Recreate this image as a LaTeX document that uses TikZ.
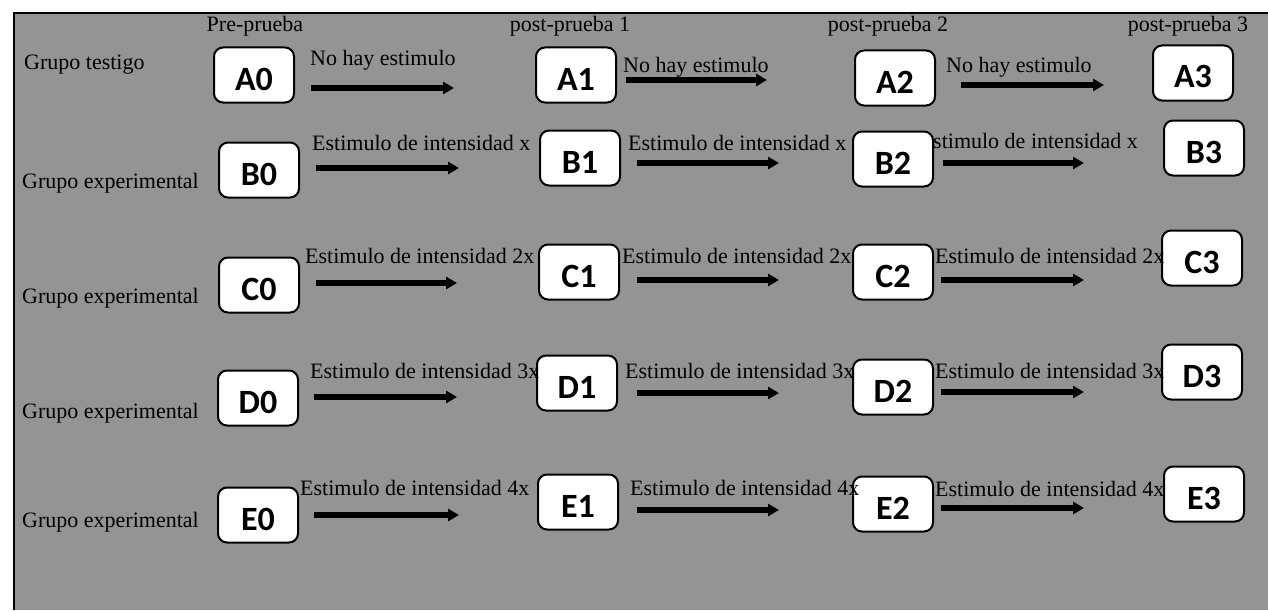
\documentclass[tikz,border=0pt]{standalone}
\usepackage{fontspec}
\setmainfont{Liberation Serif}
\newfontfamily\cajafont{Carlito}
\usetikzlibrary{arrows.meta}
\definecolor{fondo}{gray}{0.58}
\tikzset{
caja/.style = {draw, line width=2pt, rounded corners=9pt, fill=white,
               minimum width=80pt, minimum height=55pt, inner sep=0pt,
               text height=30pt, text depth=0pt,
               font=\cajafont\bfseries\fontsize{34}{38}\selectfont},
texto/.style = {inner sep=0pt, font=\fontsize{22}{26}\selectfont},
flecha/.style 2 args = {line width=6pt, -{Triangle[length=11pt,width=12pt]},
                        shorten <=#1pt, shorten >=#2pt}
}
\begin{document}
\begin{tikzpicture}[x=1pt, y=-1pt]
  \useasboundingbox (0,0) rectangle (1268,610);
  \fill[fondo] (14,13) rectangle (1268,610);
  \draw[line width=2pt] (14,610) -- (14,13) -- (1268,13);

  % encabezados
  \node[texto, anchor=base] (pre)   at (255,32)  {Pre-prueba};
  \node[texto, anchor=base] (post1) at (570,32)  {post-prueba 1};
  \node[texto, anchor=base] (post2) at (888,32)  {post-prueba 2};
  \node[texto, anchor=base] (post3) at (1188,32) {post-prueba 3};

  % grupos
  \node[texto, anchor=base west] (gA) at (24,70)  {Grupo testigo};
  \node[texto, anchor=base west] (gB) at (22,188) {Grupo experimental};
  \node[texto, anchor=base west] (gC) at (22,303) {Grupo experimental};
  \node[texto, anchor=base west] (gD) at (22,418) {Grupo experimental};
  \node[texto, anchor=base west] (gE) at (22,527) {Grupo experimental};

  % cajas
  \node[caja] (A0) at (254,75)  {A0};
  \node[caja] (A1) at (576,75)  {A1};
  \node[caja] (A2) at (895,78)  {A2};
  \node[caja] (A3) at (1193,73) {A3};
  \node[caja] (B0) at (259,170) {B0};
  \node[caja] (B1) at (580,158) {B1};
  \node[caja] (B2) at (893,159) {B2};
  \node[caja] (B3) at (1204,148) {B3};
  \node[caja] (C0) at (259,285) {C0};
  \node[caja] (C1) at (579,272) {C1};
  \node[caja] (C2) at (893,272) {C2};
  \node[caja] (C3) at (1202,258) {C3};
  \node[caja] (D0) at (258,398) {D0};
  \node[caja] (D1) at (577,383) {D1};
  \node[caja] (D2) at (893,387) {D2};
  \node[caja] (D3) at (1202,372) {D3};
  \node[caja] (E0) at (258,515) {E0};
  \node[caja] (E1) at (578,502) {E1};
  \node[caja] (E2) at (893,504) {E2};
  \node[caja] (E3) at (1204,494) {E3};

  % fila A
  \draw[flecha={16}{81}] (A0.east |- 0,88) -- (A1.west |- 0,88);
  \draw[flecha={9}{87}]  (A1.east |- 0,80) -- (A2.west |- 0,80);
  \draw[flecha={25}{48}] (A2.east |- 0,85) -- (A3.west |- 0,85);
  \node[texto, anchor=base west] (tA1) at (310,66) {No hay estimulo};
  \node[texto, anchor=base west] (tA2) at (623,72) {No hay estimulo};
  \node[texto, anchor=base west] (tA3) at (946,73) {No hay estimulo};

  % fila B
  \draw[flecha={16}{80}] (B0.east |- 0,168) -- (B1.west |- 0,168);
  \draw[flecha={16}{73}] (B1.east |- 0,163) -- (B2.west |- 0,163);
  \draw[flecha={9}{79}]  (B2.east |- 0,163) -- (B3.west |- 0,163);
  \node[texto, anchor=base west] (tB1) at (312,150) {Estimulo de intensidad x};
  \node[texto, anchor=base west] (tB2) at (628,150) {Estimulo de intensidad x};
  \node[texto, anchor=base west] (tB3) at (933,148) {stimulo de intensidad x};

  % fila C
  \draw[flecha={16}{81}] (C0.east |- 0,283) -- (C1.west |- 0,283);
  \draw[flecha={17}{73}] (C1.east |- 0,280) -- (C2.west |- 0,280);
  \draw[flecha={7}{77}]  (C2.east |- 0,280) -- (C3.west |- 0,280);
  \node[texto, anchor=base west] (tC1) at (305,263) {Estimulo de intensidad 2x};
  \node[texto, anchor=base west] (tC2) at (622,263) {Estimulo de intensidad 2x};
  \node[texto, anchor=base west] (tC3) at (935,263) {Estimulo de intensidad 2x};

  % fila D
  \draw[flecha={15}{79}] (D0.east |- 0,397) -- (D1.west |- 0,397);
  \draw[flecha={19}{73}] (D1.east |- 0,393) -- (D2.west |- 0,393);
  \draw[flecha={7}{77}]  (D2.east |- 0,392) -- (D3.west |- 0,392);
  \node[texto, anchor=base west] (tD1) at (310,378) {Estimulo de intensidad 3x};
  \node[texto, anchor=base west] (tD2) at (625,378) {Estimulo de intensidad 3x};
  \node[texto, anchor=base west] (tD3) at (935,378) {Estimulo de intensidad 3x};

  % fila E
  \draw[flecha={15}{78}] (E0.east |- 0,515) -- (E1.west |- 0,515);
  \draw[flecha={18}{73}] (E1.east |- 0,510) -- (E2.west |- 0,510);
  \draw[flecha={7}{79}]  (E2.east |- 0,508) -- (E3.west |- 0,508);
  \node[texto, anchor=base west] (tE1) at (300,495) {Estimulo de intensidad 4x};
  \node[texto, anchor=base west] (tE2) at (630,495) {Estimulo de intensidad 4x};
  \node[texto, anchor=base west] (tE3) at (935,496) {Estimulo de intensidad 4x};
\end{tikzpicture}
\end{document}
